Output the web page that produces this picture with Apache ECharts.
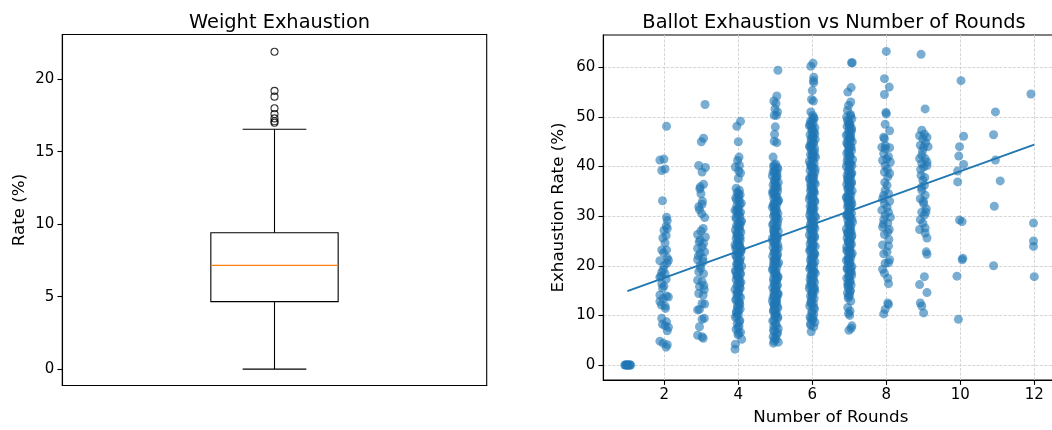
<!DOCTYPE html>
<html>
<head>
<meta charset="utf-8">
<script src="https://cdn.jsdelivr.net/npm/echarts@6/dist/echarts.min.js"></script>
<style>
html,body{margin:0;padding:0;background:#fff;}
#c{width:1052px;height:430px;}
</style>
</head>
<body>
<div id="c"></div>
<script>
// ---- Left panel: weight exhaustion box plot ----
const boxStats = [0, 4.66, 7.16, 9.41, 16.55]; // lower whisker, Q1, median, Q3, upper whisker
const boxOutliers = [21.9, 19.2, 18.8, 18.0, 17.6, 17.3, 17.1, 17.0];
const leftYTicks = [0, 5, 10, 15, 20];

// ---- Right panel: ballot exhaustion vs number of rounds (jittered) ----
const round1 = [[0.93,0],[0.95,0],[0.97,0],[0.99,0],[1.01,0],[1.03,0],[1.05,0],[1.07,0],[1.09,0]];
const round2 = [[2.06,48.1],[1.88,41.3],[1.99,41.5],[1.93,39.2],[2.02,39.5],[1.95,33.1],[2.06,29.8],[2.08,29.1],[2.05,28.0],[1.99,27.1],[2.08,27.5],[2.05,26.1],[1.96,25.6],[2.02,24.6],[1.93,23.2],[2.06,23.2],[1.98,22.6],[2.08,21.6],[1.88,21.0],[2.11,21.1],[1.99,20.0],[1.93,18.7],[2.02,18.4],[1.88,17.7],[2.05,17.3],[1.93,16.4],[1.99,15.9],[1.88,14.1],[2.06,13.9],[1.97,13.4],[2.11,13.7],[1.88,12.8],[2.02,11.9],[1.93,9.4],[2.06,8.7],[2.02,7.9],[2.11,7.6],[1.88,4.8],[1.97,4.4],[2.08,4.1],[2.05,3.6],[2.08,6.9],[1.92,12.1],[2.03,11.4],[1.95,15.5],[1.97,19.2],[2.07,20.5],[1.91,17.9],[1.95,8.2]];
const round3 = [[3.10,52.5],[3.06,45.7],[3.00,45.0],[2.93,40.2],[3.11,39.8],[3.02,38.9],[2.97,35.9],[3.06,36.4],[2.99,34.5],[2.93,31.9],[3.02,32.4],[2.95,31.3],[3.09,29.7],[3.05,27.5],[2.90,26.3],[3.11,25.8],[2.97,25.2],[3.06,24.5],[2.90,23.5],[3.02,23.8],[2.97,22.5],[3.09,22.8],[2.90,21.2],[3.05,20.8],[2.97,20.1],[2.93,18.8],[3.06,18.4],[2.90,17.1],[3.02,16.8],[2.95,15.8],[3.08,15.2],[2.93,14.4],[3.05,14.1],[3.02,12.4],[3.09,12.3],[2.95,11.2],[2.90,11.1],[3.02,9.2],[3.08,9.4],[2.95,7.7],[2.90,6.0],[3.02,5.7],[3.05,5.4],[2.96,35.5],[3.03,33.0],[2.98,19.5],[3.04,21.5],[2.94,24.8],[3.07,16.0],[2.99,27.0],[3.01,30.5],[2.92,22.0]];
const round4 = [[4.06,49.1],[3.96,48.1],[4.00,45.0],[4.02,41.9],[3.98,41.2],[4.03,40.2],[3.92,39.9],[4.01,39.1],[4.06,38.7],[4.00,37.6],[3.94,35.6],[4.03,35.2],
[3.97,34.8],[4.05,34.3],[3.93,33.7],[4.02,33.2],[4.08,32.6],[3.96,32.1],[4.01,31.7],[3.91,31.2],[4.06,30.8],[3.99,30.3],[4.04,29.9],[3.94,29.5],[4.09,29.0],[4.00,28.6],[3.95,28.1],[4.03,27.7],[3.92,27.2],[4.07,26.8],[3.98,26.4],[4.02,25.9],[3.94,25.5],[4.05,25.1],[3.99,24.6],[3.91,24.2],[4.04,23.8],[4.08,23.3],[3.96,22.9],[4.01,22.5],[3.93,22.1],[4.06,21.6],[3.98,21.2],[4.03,20.8],[3.95,20.3],[4.09,19.9],[4.00,19.5],[3.92,19.0],[4.05,18.6],[3.97,18.1],[4.02,17.6],[3.94,17.2],[4.07,16.7],[3.99,16.2],[4.04,15.7],[3.91,15.2],[4.01,14.7],[3.96,14.2],[4.06,13.6],[3.93,13.1],[4.03,12.5],[3.98,11.9],[4.05,11.3],[3.95,10.8],[4.00,10.2],[3.92,9.6],[4.04,9.0],[3.97,8.4],[4.02,7.8],[3.94,7.2],[4.06,6.6],[3.99,6.1],
[4.01,33.9],[3.95,31.0],[4.05,28.3],[3.97,26.0],[4.03,24.0],[3.93,23.5],[4.06,22.7],[3.99,20.5],[4.02,19.2],[3.96,18.0],[4.04,16.4],[3.98,14.5],[4.01,12.8],[3.95,10.5],
[4.00,34.5],[3.95,33.3],[4.04,32.4],[3.98,31.4],[4.02,30.6],[3.94,29.8],[4.06,28.9],[3.99,27.9],[4.03,27.1],[3.96,26.6],[4.05,25.7],[3.98,24.9],[4.02,24.4],[3.95,23.9],[4.07,23.1],[4.00,22.3],[3.95,21.8],[4.04,21.0],[3.98,20.1],[4.02,19.7],[3.94,18.8],[4.06,18.3],[3.99,17.4],[4.03,16.9],[3.96,16.0],[4.05,15.4],[3.98,14.9],[4.02,13.9],[3.95,13.3],[4.04,12.2],[3.98,11.6],[4.01,10.9],[3.96,9.8],[4.03,8.7],[3.99,7.5],[4.01,6.4],
[4.09,5.2],[3.92,4.2],[3.91,3.2]];
const round5 = [[5.07,59.4],[5.04,54.2],[4.96,53.2],[5.02,52.7],[4.99,51.6],[5.06,51.0],[4.97,50.3],[5.03,50.3],[5.00,48.0],[4.98,46.5],[4.97,45.1],[5.04,44.8],[4.94,41.9],
[5.01,40.5],[4.95,40.0],[5.07,39.5],[4.98,39.0],[5.04,38.6],[4.92,38.1],[5.02,37.7],[4.97,37.2],[5.08,36.8],[4.94,36.3],[5.03,35.9],[4.99,35.4],[5.06,35.0],[4.93,34.5],[5.01,34.1],[4.96,33.6],[5.09,33.2],[4.98,32.7],[5.04,32.3],[4.92,31.8],[5.02,31.4],[4.97,30.9],[5.07,30.5],[4.95,30.0],[5.03,29.6],[4.99,29.1],[5.06,28.7],[4.93,28.2],[5.01,27.8],[4.96,27.3],[5.08,26.9],[4.98,26.4],[5.04,26.0],[4.92,25.5],[5.02,25.1],[4.97,24.6],[5.07,24.2],[4.94,23.7],[5.03,23.3],[4.99,22.8],[5.06,22.4],[4.93,21.9],[5.01,21.5],[4.96,21.0],[5.09,20.6],[4.98,20.1],[5.04,19.7],[4.92,19.2],[5.02,18.8],[4.97,18.3],[5.07,17.9],[4.95,17.4],[5.03,17.0],[4.99,16.5],[5.06,16.1],[4.93,15.6],[5.01,15.2],[4.96,14.7],[5.08,14.3],[4.98,13.8],[5.04,13.4],[4.92,12.9],[5.02,12.5],[4.97,12.0],[5.07,11.5],[4.95,11.0],[5.03,10.5],[4.99,10.0],[5.06,9.4],[4.93,8.9],[5.01,8.3],[4.96,7.8],[5.08,7.3],[4.98,6.8],[5.04,6.2],[4.94,5.7],[5.02,5.2],[4.97,4.8],[5.08,4.6],[4.95,4.4],
[4.97,40.3],[5.05,38.0],[4.99,36.0],[5.04,34.0],[4.96,32.0],[5.01,30.2],[5.05,28.0],[4.97,26.1],[5.00,24.0],[5.05,22.0],[4.95,20.3],[5.02,18.0],[4.98,16.0],[5.05,14.0],[4.96,12.2],[5.00,9.8],
[5.05,39.8],[4.94,38.9],[5.02,37.9],[4.99,36.9],[5.06,35.7],[4.93,35.0],[5.00,33.9],[5.07,33.0],[4.95,32.4],[5.03,31.1],[4.98,30.4],[5.08,29.4],[4.94,28.5],[5.02,27.5],[4.97,26.7],[5.06,25.8],[4.93,25.0],[5.00,24.4],[5.08,23.5],[4.96,22.6],[5.03,21.7],[4.98,21.2],[5.05,20.4],[4.94,19.5],[5.01,18.5],[5.07,17.6],[4.96,16.8],[5.04,15.9],[4.99,15.0],[5.06,14.5],[4.94,13.6],[5.02,13.0],[4.97,12.3],[5.05,11.8],[4.95,10.8],[5.01,10.3],[5.07,9.7],[4.97,9.0],[5.03,8.0],[4.95,7.0],[5.06,6.5],[4.99,5.5],
[4.99,39.2],[5.02,36.5],[4.96,34.8],[5.05,32.9],[4.99,31.6],[5.02,29.9],[4.96,27.0],[5.04,25.3],[4.99,23.0],[5.01,20.9],[4.97,19.0],[5.04,17.2],[5.00,15.4],[4.97,14.0],[5.03,12.7],[4.99,11.2]];
const round6 = [[5.96,60.2],[6.02,60.8],[6.04,58.0],[6.03,57.3],[6.04,56.9],[6.00,55.3],[5.98,53.5],[6.03,53.2],[5.96,51.0],[6.01,50.3],
[6.05,49.6],[5.95,49.1],[6.02,48.7],[5.92,48.2],[6.07,47.8],[5.99,47.3],[6.04,46.9],[5.94,46.4],[6.01,46.0],[6.08,45.5],[5.97,45.1],[6.03,44.6],[5.93,44.2],[6.06,43.7],[5.98,43.3],[6.02,42.8],[5.95,42.4],[6.09,41.9],[6.00,41.5],[5.92,41.0],[6.05,40.6],[5.97,40.1],[6.03,39.7],[5.94,39.2],[6.07,38.8],[5.99,38.3],[6.04,37.9],[5.93,37.4],[6.01,37.0],[6.08,36.5],[5.96,36.1],[6.03,35.6],[5.95,35.2],[6.06,34.7],[5.98,34.3],[6.02,33.8],[5.92,33.4],[6.07,32.9],[6.00,32.5],[5.94,32.0],[6.05,31.6],[5.97,31.1],[6.03,30.7],[5.93,30.2],[6.09,29.8],[5.99,29.3],[6.04,28.9],[5.95,28.4],[6.01,28.0],[6.07,27.5],[5.96,27.1],[6.03,26.6],[5.92,26.2],[6.06,25.7],[5.98,25.3],[6.02,24.8],[5.94,24.4],[6.08,23.9],[6.00,23.5],[5.93,23.0],[6.05,22.6],[5.97,22.1],[6.03,21.7],[5.95,21.2],[6.07,20.8],[5.99,20.3],[6.04,19.9],[5.93,19.4],[6.01,19.0],[6.08,18.5],[5.96,18.1],[6.03,17.6],[5.94,17.2],[6.06,16.7],[5.98,16.3],[6.02,15.8],[5.92,15.4],[6.07,14.9],[6.00,14.4],[5.95,13.9],[6.05,13.4],[5.97,12.9],[6.03,12.4],[5.93,11.9],[6.06,11.3],[5.99,10.8],[6.04,10.2],[5.94,9.7],[6.01,9.1],[6.07,8.6],[5.96,8.0],[6.04,7.7],[5.97,6.7],
[5.98,48.0],[6.02,45.8],[5.97,44.0],[6.05,42.1],[5.99,40.0],[6.02,38.0],[5.96,36.6],[6.04,35.0],[5.99,33.0],[6.02,31.3],[5.96,29.6],[6.04,27.8],[5.98,26.0],[6.01,24.2],[6.05,22.4],[5.97,20.6],[6.02,18.8],[5.98,17.0],[6.04,15.2],[5.99,13.6],[5.96,9.3],
[6.04,49.9],[5.94,48.5],[6.01,47.6],[6.07,46.6],[5.97,45.6],[6.03,44.9],[5.93,43.9],[6.06,43.0],[5.99,42.1],[6.02,41.2],[5.95,40.4],[6.08,39.5],[6.00,38.6],[5.93,37.7],[6.05,36.8],[5.98,35.9],[6.03,34.9],[5.94,34.0],[6.06,33.1],[5.99,32.2],[6.02,31.8],[5.95,30.9],[6.07,30.0],[5.98,29.0],[6.04,28.2],[5.93,27.7],[6.01,26.8],[6.06,25.9],[5.97,25.0],[6.03,24.1],[5.94,23.3],[6.07,22.3],[5.99,21.5],[6.02,20.5],[5.95,19.7],[6.05,18.8],[5.97,17.9],[6.03,17.1],[5.93,16.0],[6.06,15.6],[5.98,14.7],[6.01,14.0],[5.96,12.6],[6.04,11.6],[5.99,10.5],[6.02,9.4],[5.95,8.3],
[6.00,49.3],[6.01,46.7],[5.98,44.5],[6.01,42.4],[5.98,39.9],[6.01,37.6],[5.98,35.4],[6.01,33.6],[5.98,31.5],[6.01,29.4],[5.98,27.4],[6.01,25.5],[5.98,23.7],[6.01,21.9],[5.98,19.8],[6.01,18.2],[5.98,16.5],[6.01,15.0],[5.98,12.2]];
const round7 = [[7.06,60.9],[7.08,60.9],[6.96,55.0],[7.05,55.9],[6.98,52.3],[7.04,53.0],[6.95,51.3],
[7.03,50.5],[6.93,50.0],[7.07,49.6],[6.98,49.1],[7.02,48.6],[6.94,48.1],[7.06,47.7],[6.99,47.2],[7.04,46.8],[6.92,46.3],[7.01,45.9],[6.97,45.4],[7.08,45.0],[6.95,44.5],[7.03,44.1],[6.99,43.6],[7.06,43.2],[6.93,42.7],[7.01,42.3],[6.96,41.8],[7.09,41.4],[6.98,40.9],[7.04,40.5],[6.92,40.0],[7.02,39.6],[6.97,39.1],[7.07,38.7],[6.94,38.2],[7.03,37.8],[6.99,37.3],[7.06,36.9],[6.93,36.4],[7.01,36.0],[6.96,35.5],[7.08,35.1],[6.98,34.6],[7.04,34.2],[6.92,33.7],[7.02,33.3],[6.97,32.8],[7.07,32.4],[6.95,31.9],[7.03,31.5],[6.99,31.0],[7.06,30.6],[6.93,30.1],[7.01,29.7],[6.96,29.2],[7.09,28.8],[6.98,28.3],[7.04,27.9],[6.92,27.4],[7.02,27.0],[6.97,26.5],[7.07,26.1],[6.94,25.6],[7.03,25.2],[6.99,24.7],[7.06,24.3],[6.93,23.8],[7.01,23.4],[6.96,22.9],[7.08,22.5],[6.98,22.0],[7.04,21.6],[6.92,21.1],[7.02,20.7],[6.97,20.2],[7.07,19.8],[6.95,19.3],[7.03,18.9],[6.99,18.4],[7.06,18.0],[6.93,17.5],[7.01,17.0],[6.96,16.5],[7.05,16.1],[6.98,15.5],[7.03,15.0],[6.95,14.5],[7.01,14.1],[6.97,13.5],[7.04,12.9],[6.96,11.6],[7.02,10.9],[6.98,10.4],[7.01,10.0],[6.99,7.0],[7.05,7.4],[7.07,7.9],
[6.99,48.5],[7.04,46.0],[6.97,44.2],[7.02,42.0],[6.98,40.3],[7.05,38.5],[6.97,37.0],[7.02,35.8],[6.99,34.0],[7.04,32.2],[6.96,30.5],[7.01,28.6],[7.05,26.8],[6.98,25.0],[7.02,23.2],[6.97,21.4],[7.04,19.6],[6.99,17.8],[7.02,24.5],[6.96,33.0],[7.00,36.2],[7.03,30.0],
[7.04,50.2],[6.95,49.3],[7.01,48.3],[7.06,47.3],[6.96,46.5],[7.03,45.6],[6.93,44.8],[7.05,43.8],[6.98,42.9],[7.02,42.1],[6.94,41.1],[7.07,40.2],[6.99,39.3],[7.03,38.4],[6.95,37.5],[7.06,36.6],[6.97,35.7],[7.02,34.8],[6.93,33.9],[7.05,33.0],[6.98,32.1],[7.01,31.2],[6.94,30.3],[7.07,29.4],[6.99,28.5],[7.03,27.6],[6.95,26.7],[7.06,25.8],[6.97,24.9],[7.02,24.0],[6.93,23.1],[7.05,22.2],[6.98,21.3],[7.01,20.4],[6.94,19.5],[7.06,18.6],[6.99,17.7],[7.03,16.8],[6.96,15.9],[7.02,14.8],[6.98,13.9],
[7.00,47.8],[7.02,45.2],[6.98,43.0],[7.01,40.7],[6.98,38.0],[7.01,36.5],[6.98,33.5],[7.01,31.7],[6.98,29.9],[7.01,27.2],[6.98,26.3],[7.01,22.7],[6.98,20.9],[7.01,19.0],[6.98,16.2]];
const round8 = [[8.00,63.2],[7.95,57.7],[8.08,56.0],[7.95,54.5],[7.99,50.9],[8.00,50.6],[7.97,48.5],[8.09,47.2],[7.93,45.9],[7.95,45.6],[7.88,43.9],[7.97,43.6],[8.09,43.8],[7.93,42.6],[8.06,42.0],[7.90,41.2],[8.11,40.9],[7.97,40.2],[7.95,38.9],[8.09,38.6],[8.04,37.9],[8.02,36.2],[7.97,35.2],[7.93,34.2],[8.06,34.5],[7.90,33.5],[8.09,33.0],[7.95,32.5],[8.02,31.8],[7.88,31.2],[8.06,30.8],[7.97,30.2],[8.11,29.8],[7.93,29.3],[8.04,28.6],[7.90,27.8],[8.08,27.3],[7.95,26.3],[8.04,26.8],[7.90,24.2],[8.06,24.0],[8.02,22.8],[7.93,22.4],[8.09,21.2],[7.97,20.5],[8.06,20.6],[7.90,19.3],[7.95,18.5],[8.04,17.5],[8.06,16.4],[8.04,12.5],[8.06,12.2],[7.97,11.2],[7.93,10.3],[8.03,39.5],[7.96,36.8],[8.01,41.5],[7.98,44.2],[8.07,25.3],[7.92,28.4]];
const round9 = [[8.94,62.6],[9.05,51.6],[8.96,47.3],[9.03,46.5],[8.90,46.2],[9.10,45.9],[8.99,45.6],[8.92,44.3],[9.01,43.9],[9.13,44.0],[8.96,42.3],[8.90,41.6],[9.05,41.6],[9.10,40.9],[8.96,40.6],[9.01,39.9],[9.10,40.2],[8.94,38.2],[8.99,37.2],[9.03,36.2],[8.96,35.2],[9.05,34.2],[8.92,33.5],[9.01,32.5],[9.08,31.5],[8.96,30.8],[9.03,30.2],[8.92,29.3],[8.99,28.6],[9.05,27.6],[8.90,27.3],[9.05,26.6],[9.10,25.6],[9.08,22.8],[9.10,22.3],[9.03,17.8],[8.90,16.2],[9.10,14.6],[8.92,12.5],[8.96,11.9],[9.01,10.5],[8.95,35.8],[9.04,37.8],[8.98,43.2],[9.07,30.8],[8.93,39.4],[9.00,33.0],[9.06,44.8]];
const round10 = [[10.02,57.3],[10.09,46.1],[9.98,44.0],[9.96,42.1],[10.09,40.4],[9.93,39.1],[9.93,36.9],[9.98,29.2],[10.05,28.9],[10.07,21.5],[10.05,21.2],[9.91,17.9],[9.95,9.2]];
const round11 = [[10.95,51.0],[10.90,46.4],[10.95,41.3],[11.08,37.1],[10.92,32.0],[10.90,20.0]];
const round12 = [[11.91,54.6],[11.98,28.6],[11.98,25.0],[11.98,23.9],[12.00,17.8]];
const trendX = [1, 12];
const trendY = [14.9, 44.4];
const rightXTicks = [2, 4, 6, 8, 10, 12];
const rightYTicks = [0, 10, 20, 30, 40, 50, 60];

// ---- styling constants ----
const FONT = 'DejaVu Sans';
const BLUE = '#1f77b4';
const BOX_HALF = 0.15;
const CAP_HALF = 0.075;

const allPoints = [].concat(round1, round2, round3, round4, round5, round6, round7, round8, round9, round10, round11, round12);

const chart = echarts.init(document.getElementById('c'), null, {renderer: 'canvas'});

const tickLabel = {color: '#000', fontFamily: FONT, fontSize: 15, margin: 8};
const axisNameStyle = {color: '#000', fontFamily: FONT, fontSize: 16.7};

chart.setOption({
  animation: false,
  backgroundColor: '#fff',
  title: [
    {text: 'Weight Exhaustion', left: 274.5, top: 8, textAlign: 'center',
     textStyle: {fontFamily: FONT, fontSize: 19.4, fontWeight: 'normal', color: '#000'}},
    {text: 'Ballot Exhaustion vs Number of Rounds', left: 829, top: 8, textAlign: 'center',
     textStyle: {fontFamily: FONT, fontSize: 19.4, fontWeight: 'normal', color: '#000'}}
  ],
  grid: [
    {left: 62.3, top: 34.5, width: 424.4, height: 351, show: true, borderColor: '#000', borderWidth: 1.1,
     backgroundColor: 'transparent', containLabel: false, outerBoundsMode: 'none'},
    {left: 603.3, top: 35, width: 455, height: 345, show: true, borderColor: '#000', borderWidth: 1.1,
     backgroundColor: 'transparent', containLabel: false, outerBoundsMode: 'none'}
  ],
  xAxis: [
    {gridIndex: 0, type: 'value', min: 0.5, max: 1.5,
     axisLine: {show: true, onZero: false, lineStyle: {color: '#000', width: 1.1}},
     axisTick: {show: false}, axisLabel: {show: false}, splitLine: {show: false}},
    {gridIndex: 1, type: 'value', min: 0.35, max: 12.65,
     name: 'Number of Rounds', nameLocation: 'middle', nameGap: 29, nameTextStyle: axisNameStyle,
     axisLine: {show: true, onZero: false, lineStyle: {color: '#000', width: 1.1}},
     axisTick: {show: true, length: 4.9, customValues: rightXTicks, lineStyle: {color: '#000', width: 1.1}},
     axisLabel: Object.assign({customValues: rightXTicks}, tickLabel),
     splitLine: {show: true, lineStyle: {color: '#d0d0d0', type: [3, 1.5], width: 0.9}}}
  ],
  yAxis: [
    {gridIndex: 0, type: 'value', min: -1.13, max: 23.09,
     name: 'Rate (%)', nameLocation: 'middle', nameGap: 34, nameTextStyle: axisNameStyle,
     axisLine: {show: true, onZero: false, lineStyle: {color: '#000', width: 1.1}},
     axisTick: {show: true, length: 4.9, customValues: leftYTicks, lineStyle: {color: '#000', width: 1.1}},
     axisLabel: Object.assign({customValues: leftYTicks}, tickLabel),
     splitLine: {show: false}},
    {gridIndex: 1, type: 'value', min: -3.02, max: 66.5,
     name: 'Exhaustion Rate (%)', nameLocation: 'middle', nameGap: 36, nameTextStyle: axisNameStyle,
     axisLine: {show: true, onZero: false, lineStyle: {color: '#000', width: 1.1}},
     axisTick: {show: true, length: 4.9, customValues: rightYTicks, lineStyle: {color: '#000', width: 1.1}},
     axisLabel: Object.assign({customValues: rightYTicks}, tickLabel),
     splitLine: {show: true, lineStyle: {color: '#d0d0d0', type: [3, 1.5], width: 0.9}}}
  ],
  series: [
    {
      type: 'custom', xAxisIndex: 0, yAxisIndex: 0,
      data: [[1].concat(boxStats)],
      renderItem: function (params, api) {
        const x = api.value(0);
        const lo = api.value(1), q1 = api.value(2), med = api.value(3), q3 = api.value(4), hi = api.value(5);
        const tl = api.coord([x - BOX_HALF, q3]);
        const br = api.coord([x + BOX_HALF, q1]);
        const mL = api.coord([x - BOX_HALF, med]);
        const mR = api.coord([x + BOX_HALF, med]);
        const cTop = api.coord([x, hi]);
        const cBot = api.coord([x, lo]);
        const capL = api.coord([x - CAP_HALF, hi]);
        const capR = api.coord([x + CAP_HALF, hi]);
        const capL2 = api.coord([x - CAP_HALF, lo]);
        const capR2 = api.coord([x + CAP_HALF, lo]);
        const blk = {stroke: '#000', lineWidth: 1.1, fill: null};
        return {type: 'group', children: [
          {type: 'line', shape: {x1: cTop[0], y1: cTop[1], x2: cTop[0], y2: tl[1]}, style: blk},
          {type: 'line', shape: {x1: cBot[0], y1: br[1], x2: cBot[0], y2: cBot[1]}, style: blk},
          {type: 'line', shape: {x1: capL[0], y1: capL[1], x2: capR[0], y2: capR[1]}, style: blk},
          {type: 'line', shape: {x1: capL2[0], y1: capL2[1], x2: capR2[0], y2: capR2[1]}, style: blk},
          {type: 'rect', shape: {x: tl[0], y: tl[1], width: br[0] - tl[0], height: br[1] - tl[1]}, style: {stroke: '#000', lineWidth: 1.1, fill: 'none'}},
          {type: 'line', shape: {x1: mL[0], y1: mL[1], x2: mR[0], y2: mR[1]}, style: {stroke: '#ff7f0e', lineWidth: 1.1}}
        ]};
      }
    },
    {
      type: 'scatter', xAxisIndex: 0, yAxisIndex: 0,
      data: boxOutliers.map(v => [1, v]),
      symbol: 'circle', symbolSize: 7,
      itemStyle: {color: 'rgba(0,0,0,0)', borderColor: '#000', borderWidth: 1.1},
      emphasis: {disabled: true}
    },
    {
      type: 'scatter', xAxisIndex: 1, yAxisIndex: 1,
      data: allPoints,
      symbol: 'circle', symbolSize: 9,
      itemStyle: {color: BLUE, opacity: 0.6},
      emphasis: {disabled: true},
      z: 3
    },
    {
      type: 'line', xAxisIndex: 1, yAxisIndex: 1,
      data: trendX.map((x, i) => [x, trendY[i]]),
      showSymbol: false, symbol: 'none',
      lineStyle: {color: BLUE, width: 2},
      z: 4
    }
  ]
});
</script>
</body>
</html>
